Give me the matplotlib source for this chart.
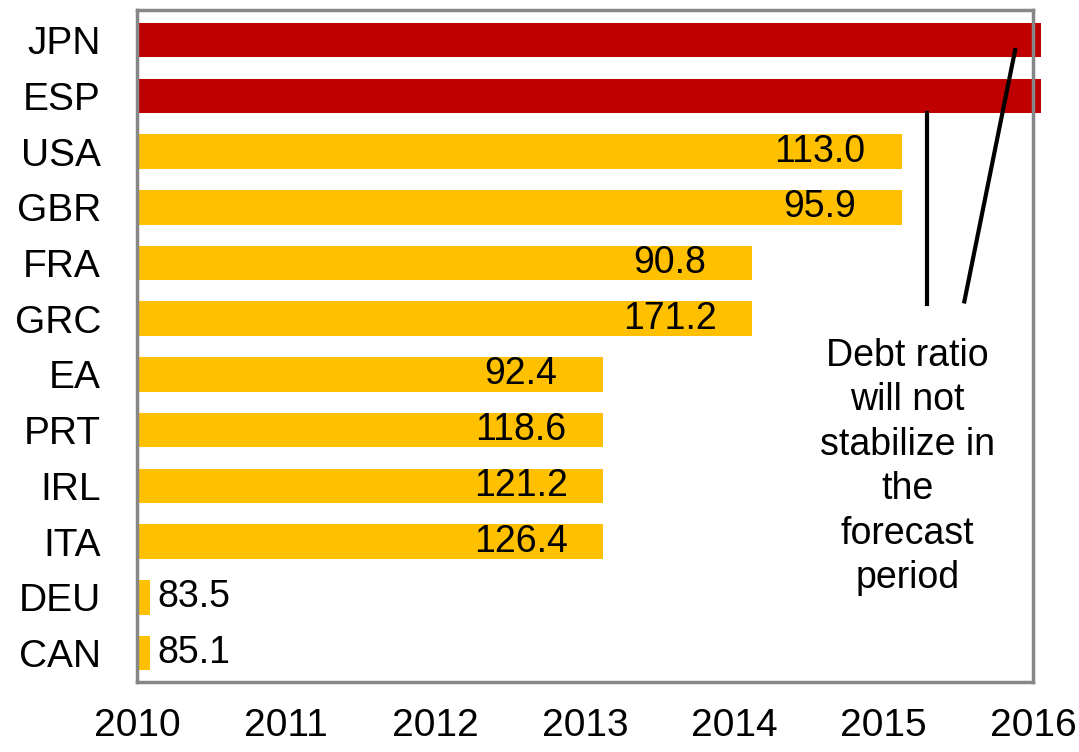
import matplotlib
matplotlib.use("Agg")
import matplotlib.pyplot as plt

plt.rcParams['font.family'] = ['Liberation Sans', 'DejaVu Sans']

countries = ['JPN', 'ESP', 'USA', 'GBR', 'FRA', 'GRC', 'EA', 'PRT', 'IRL', 'ITA', 'DEU', 'CAN']
# year in which the debt ratio stabilizes
stab_year = [2016.05, 2016.05, 2015.12, 2015.12, 2014.12, 2014.12,
             2013.12, 2013.12, 2013.12, 2013.12, 2010.09, 2010.09]
# debt level at stabilization (% of GDP); None = not stabilizing
debt_level = [None, None, 113.0, 95.9, 90.8, 171.2, 92.4, 118.6, 121.2, 126.4, 83.5, 85.1]
years = [2010, 2011, 2012, 2013, 2014, 2015, 2016]

RED = '#C00000'
YELLOW = '#FFC000'
GREY = '#878787'
start = years[0]

fig = plt.figure(figsize=(10.79, 7.52), dpi=100)
ax = fig.add_axes([0.127, 0.0931, 0.8304, 0.8936])

ypos = list(range(len(countries)))
colors = [RED if d is None else YELLOW for d in debt_level]
widths = [y - start for y in stab_year]
bars = ax.barh(ypos, widths, left=start, height=0.62, color=colors, zorder=2)
for b, d in zip(bars, debt_level):
    if d is None:
        b.set_clip_on(False)

for y, end, d in zip(ypos, stab_year, debt_level):
    if d is None:
        continue
    if end - start < 1:
        ax.annotate('%.1f' % d, (end, y), xytext=(5, 0), textcoords='offset points',
                    ha='left', va='center', fontsize=27, zorder=4)
    else:
        ax.text(end - 0.55, y, '%.1f' % d, ha='center', va='center', fontsize=27, zorder=4)

# pointer lines from the note to the red bars
ax.plot([2015.29, 2015.29], [1.3, 4.74], color='black', lw=3, zorder=3, clip_on=False)
ax.plot([2015.88, 2015.54], [0.18, 4.69], color='black', lw=3, zorder=3, clip_on=False)
ax.text(2015.16, 7.66, 'Debt ratio\nwill not\nstabilize in\nthe\nforecast\nperiod',
        ha='center', va='center', fontsize=27, linespacing=1.3, zorder=4)

ax.set_xlim(years[0], years[-1])
ax.set_ylim(len(countries) - 0.48, -0.54)
ax.set_xticks(years)
ax.set_xticklabels([str(y) for y in years], fontsize=28)
ax.set_yticks(ypos)
ax.set_yticklabels(countries, fontsize=28)
ax.tick_params(axis='x', length=0, pad=19)
ax.tick_params(axis='y', length=0, pad=26)
for s in ax.spines.values():
    s.set_color(GREY)
    s.set_linewidth(2.5)
    s.set_zorder(2.5)

fig.savefig('out.png', dpi=100)
